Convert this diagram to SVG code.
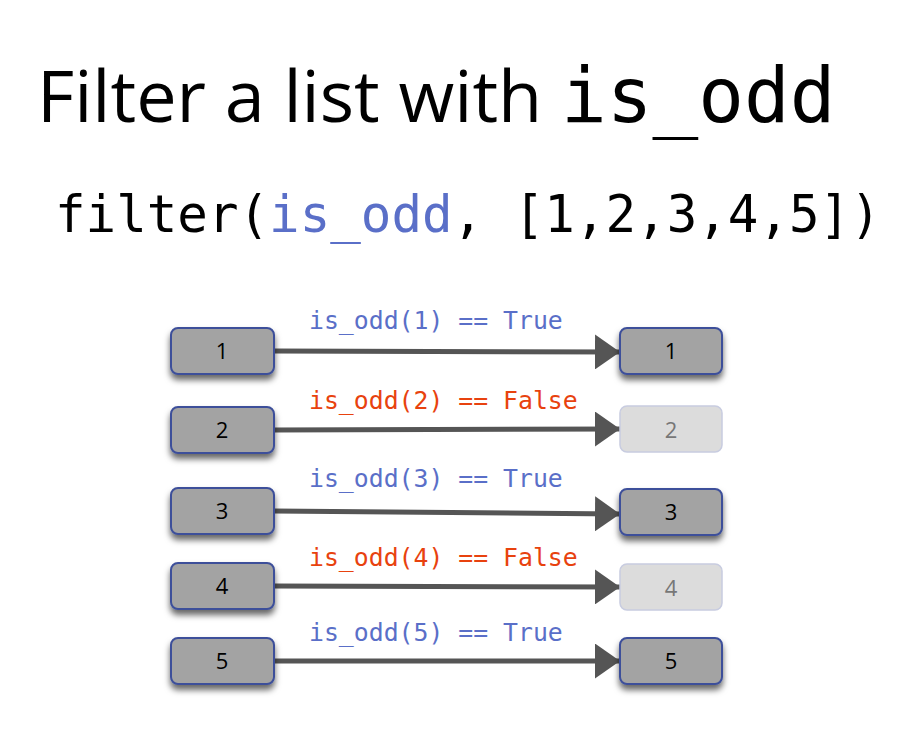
<svg xmlns="http://www.w3.org/2000/svg" width="913" height="754" viewBox="0 0 913 754">
<defs>
<style>
.box{fill:#a3a3a3;stroke:#3d4f9a;stroke-width:2}
.ghost{fill:#dcdcdc;stroke:#c8cce0;stroke-width:1.5}
.n{font-family:"Open Sans","Noto Sans",sans-serif;font-size:22px;text-anchor:middle;fill:#000}
.ng{fill:#777}
.lbl{font-family:"DejaVu Sans Mono","Liberation Mono",monospace;font-size:24.8px}
.t{fill:#5a6fc8}.f{fill:#e8420e}
.c{stroke:#555;stroke-width:5;fill:none}
</style>
<filter id="sh" x="-20%" y="-30%" width="140%" height="180%"><feDropShadow dx="0" dy="5" stdDeviation="3" flood-color="#000" flood-opacity="0.6"/></filter>
<marker id="ah" markerWidth="6" markerHeight="7" refX="5" refY="3.5" orient="auto" markerUnits="strokeWidth"><path d="M0,0L5,3.5L0,7z" fill="#555"/></marker>
</defs>
<rect width="913" height="754" fill="#fff"/>
<text x="37" y="122" font-family="Open Sans,Noto Sans,sans-serif" font-size="72">Filter a list with <tspan font-family="DejaVu Sans Mono,monospace" font-size="76">is_odd</tspan></text>
<text x="55" y="232" font-family="DejaVu Sans Mono,Liberation Mono,monospace" font-size="50.8">filter(<tspan fill="#5a6fc8">is_odd</tspan>, [1,2,3,4,5])</text>
<g id="connectors">
<line class="c" x1="274" y1="351" x2="620" y2="352" marker-end="url(#ah)"/>
<line class="c" x1="274" y1="430" x2="620" y2="429" marker-end="url(#ah)"/>
<line class="c" x1="274" y1="511" x2="620" y2="514" marker-end="url(#ah)"/>
<line class="c" x1="274" y1="586" x2="620" y2="587" marker-end="url(#ah)"/>
<line class="c" x1="274" y1="661" x2="620" y2="661" marker-end="url(#ah)"/>
</g>
<g id="labels">
<text class="lbl t" x="309" y="329">is_odd(1) == True</text>
<text class="lbl f" x="309" y="409">is_odd(2) == False</text>
<text class="lbl t" x="309" y="487">is_odd(3) == True</text>
<text class="lbl f" x="309" y="566">is_odd(4) == False</text>
<text class="lbl t" x="309" y="641">is_odd(5) == True</text>
</g>
<g id="in1"><rect class="box" filter="url(#sh)" x="171" y="328" width="103" height="46" rx="7"/><text class="n" x="222" y="359">1</text></g>
<g id="in2"><rect class="box" filter="url(#sh)" x="171" y="407" width="103" height="46" rx="7"/><text class="n" x="222" y="438">2</text></g>
<g id="in3"><rect class="box" filter="url(#sh)" x="171" y="488" width="103" height="46" rx="7"/><text class="n" x="222" y="519">3</text></g>
<g id="in4"><rect class="box" filter="url(#sh)" x="171" y="563" width="103" height="46" rx="7"/><text class="n" x="222" y="594">4</text></g>
<g id="in5"><rect class="box" filter="url(#sh)" x="171" y="638" width="103" height="46" rx="7"/><text class="n" x="222" y="669">5</text></g>
<g id="out1"><rect class="box" filter="url(#sh)" x="620" y="328" width="102" height="46" rx="7"/><text class="n" x="671" y="359">1</text></g>
<g id="out2"><rect class="ghost" x="620" y="406" width="102" height="46" rx="7"/><text class="n ng" x="671" y="438">2</text></g>
<g id="out3"><rect class="box" filter="url(#sh)" x="620" y="489" width="102" height="46" rx="7"/><text class="n" x="671" y="520">3</text></g>
<g id="out4"><rect class="ghost" x="620" y="564" width="102" height="46" rx="7"/><text class="n ng" x="671" y="596">4</text></g>
<g id="out5"><rect class="box" filter="url(#sh)" x="620" y="638" width="102" height="46" rx="7"/><text class="n" x="671" y="669">5</text></g>
</svg>
